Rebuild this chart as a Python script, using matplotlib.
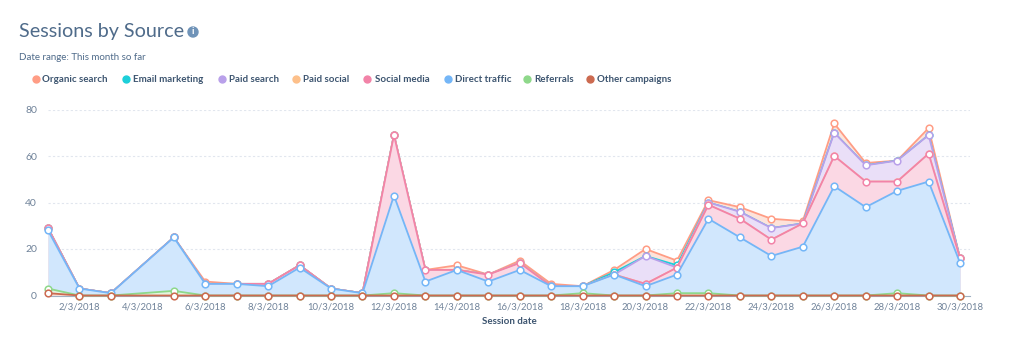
import matplotlib
matplotlib.use('Agg')
import matplotlib.pyplot as plt
from matplotlib.lines import Line2D
from matplotlib.patches import Circle

plt.rcParams['font.family'] = ['Lato', 'DejaVu Sans']

# days in the month that have data, the 4th is missing in the reference
days = [1, 2, 3, 5, 6, 7, 8, 9, 10, 11, 12, 13, 14, 15, 16, 17, 18, 19, 20, 21, 22, 23, 24, 25, 26, 27, 28, 29, 30]

other_campaigns = [1, 0, 0, 0, 0, 0, 0, 0, 0, 0, 0, 0, 0, 0, 0, 0, 0, 0, 0, 0, 0, 0, 0, 0, 0, 0, 0, 0, 0]
referrals = [3, 0, 0, 2, 0, 0, 0, 0, 0, 0, 1, 0, 0, 0, 0, 0, 1, 0, 0, 1, 1, 0, 0, 0, 0, 0, 1, 0, 0]
direct_traffic = [28, 3, 1, 25, 5, 5, 4, 12, 3, 1, 43, 6, 11, 6, 11, 4, 4, 9, 4, 9, 33, 25, 17, 21, 47, 38, 45, 49, 14]
social_media = [29, 3, 1, 25, 5, 5, 5, 13, 3, 1, 69, 11, 11, 9, 14, 4, 4, 9, 5, 12, 39, 33, 24, 31, 60, 49, 49, 61, 16]
paid_social = [29, 3, 1, 25, 5, 5, 5, 13, 3, 1, 69, 11, 11, 9, 14, 4, 4, 9, 5, 12, 39, 33, 24, 31, 60, 49, 49, 61, 16]
paid_search = [29, 3, 1, 25, 5, 5, 5, 13, 3, 1, 69, 11, 11, 9, 14, 4, 4, 9, 17, 12, 40, 36, 29, 31, 70, 56, 58, 69, 16]
email_marketing = [29, 3, 1, 25, 5, 5, 5, 13, 3, 1, 69, 11, 11, 9, 14, 4, 4, 10, 17, 13, 40, 36, 29, 31, 70, 56, 58, 69, 16]
organic_search = [29, 3, 1, 25, 6, 5, 5, 13, 3, 1, 69, 11, 13, 9, 15, 5, 4, 11, 20, 15, 41, 38, 33, 32, 74, 57, 58, 72, 16]

series_names = ['Organic search', 'Email marketing', 'Paid search', 'Paid social',
                'Social media', 'Direct traffic', 'Referrals', 'Other campaigns']
series_values = [organic_search, email_marketing, paid_search, paid_social,
                 social_media, direct_traffic, referrals, other_campaigns]
line_colors = ['#ff9d85', '#1ccfd9', '#b9a0ea', '#fdc08a', '#f283a8', '#74b6f7', '#8ed88a', '#cc6a50']
fill_colors = ['#fde3da', '#d5f5f5', '#eadff8', '#fdeedd', '#fbd8e4', '#d1e7fd', '#e4f4e0', '#f3dcd6']

y_ticks = [0, 20, 40, 60, 80]
x_ticks = list(range(2, 31, 2))
x_labels = [f'{d}/3/2018' for d in x_ticks]

legend_marker_x = [36, 126, 222, 296, 367, 448, 527, 590]
legend_text_x = [42, 133, 229, 303, 375, 455, 534, 597]

W, H = 1024, 352
fig = plt.figure(figsize=(W / 100, H / 100), dpi=100, facecolor='white')
ax = fig.add_axes([48 / W, 1 - 295.5 / H, 922 / W, 186 / H])

# top of the stack first, so the lower series paint over it
for i in range(len(series_names)):
    ax.fill_between(days, 0, series_values[i], color=fill_colors[i], lw=0, zorder=2 + i)
    ax.plot(days, series_values[i], color=line_colors[i], lw=1.3, marker='o', ms=4.8,
            mfc='white', mec=line_colors[i], mew=1.1, zorder=2 + i, clip_on=False)

ax.set_xlim(1, 1 + 922 / 31.45)
ax.set_ylim(0, 80)
ax.set_yticks(y_ticks)
ax.set_xticks(x_ticks)
ax.set_xticklabels(x_labels)
ax.grid(axis='y', color='#e1e6ee', lw=0.8, ls=(0, (2, 2)), zorder=1)
ax.tick_params(axis='y', length=0, pad=8, labelsize=7.5, labelcolor='#6f8299')
ax.tick_params(axis='x', length=0, pad=5, labelsize=6.8, labelcolor='#6f8299')
for side in ['top', 'right', 'left']:
    ax.spines[side].set_visible(False)
ax.spines['bottom'].set_color('#9fb0c2')
ax.spines['bottom'].set_linewidth(0.8)

fig.text(19 / W, 1 - 32 / H, 'Sessions by Source', fontsize=14.2, color='#4f6b8a', va='center', ha='left')
fig.add_artist(Circle((193, H - 32), 5, transform=None, color='#6f93b8'))
fig.text(193 / W, 1 - 32 / H, 'i', fontsize=7, color='white', weight='bold', ha='center', va='center')
fig.text(19 / W, 1 - 58 / H, 'Date range: This month so far', fontsize=7, color='#4f6b8a', va='center', ha='left')

for i in range(len(series_names)):
    fig.add_artist(Line2D([legend_marker_x[i] / W], [1 - 79 / H], transform=fig.transFigure, marker='o', ms=5,
                          color=line_colors[i], lw=0))
    fig.text(legend_text_x[i] / W, 1 - 79.5 / H, series_names[i], fontsize=7, color='#3d5570',
             weight='bold', va='center', ha='left')

fig.text(509 / W, 1 - 322 / H, 'Session date', fontsize=7, color='#3d5570', weight='bold', ha='center', va='center')

fig.savefig('out.png', dpi=100)
